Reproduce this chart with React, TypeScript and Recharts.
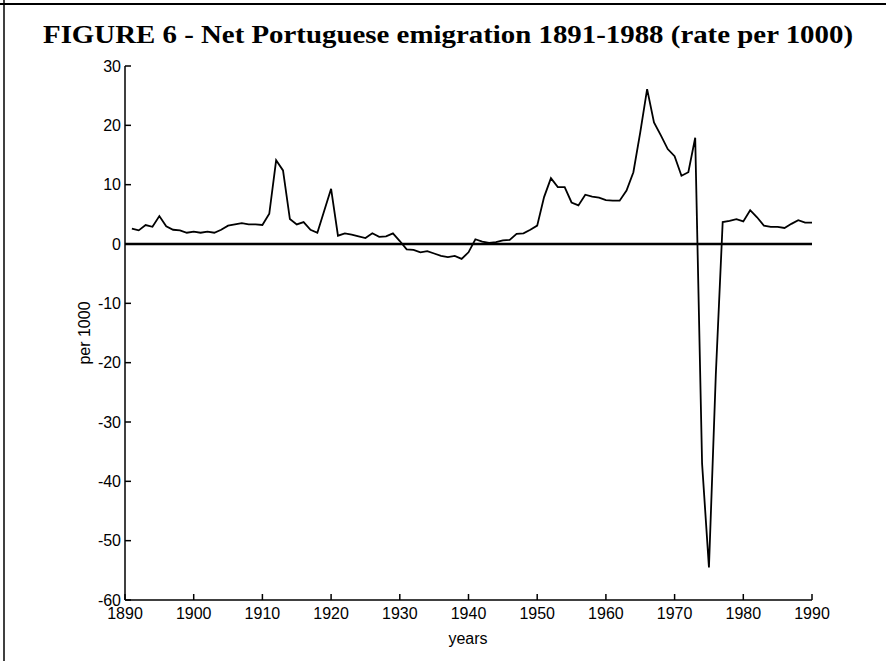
import { LineChart, Line, XAxis, YAxis, ReferenceLine } from "recharts";

const years = [
  1891, 1892, 1893, 1894, 1895, 1896, 1897, 1898, 1899, 1900,
  1901, 1902, 1903, 1904, 1905, 1906, 1907, 1908, 1909, 1910,
  1911, 1912, 1913, 1914, 1915, 1916, 1917, 1918, 1919, 1920,
  1921, 1922, 1923, 1924, 1925, 1926, 1927, 1928, 1929, 1930,
  1931, 1932, 1933, 1934, 1935, 1936, 1937, 1938, 1939, 1940,
  1941, 1942, 1943, 1944, 1945, 1946, 1947, 1948, 1949, 1950,
  1951, 1952, 1953, 1954, 1955, 1956, 1957, 1958, 1959, 1960,
  1961, 1962, 1963, 1964, 1965, 1966, 1967, 1968, 1969, 1970,
  1971, 1972, 1973, 1974, 1975, 1976, 1977, 1978, 1979, 1980,
  1981, 1982, 1983, 1984, 1985, 1986, 1987, 1988, 1989, 1990,
];

// net emigration, per 1000
const rates = [
  2.6, 2.3, 3.2, 2.9, 4.7, 3.0, 2.4, 2.3, 1.9, 2.1,
  1.9, 2.1, 1.9, 2.4, 3.1, 3.3, 3.5, 3.3, 3.3, 3.2,
  5.1, 14.1, 12.4, 4.2, 3.3, 3.7, 2.4, 1.9, 5.6, 9.3,
  1.4, 1.8, 1.6, 1.3, 1.0, 1.8, 1.2, 1.3, 1.8, 0.5,
  -0.9, -1.0, -1.4, -1.2, -1.6, -2.0, -2.2, -2.0, -2.5, -1.4,
  0.8, 0.4, 0.2, 0.3, 0.6, 0.7, 1.7, 1.8, 2.4, 3.1,
  7.9, 11.1, 9.6, 9.6, 7.0, 6.5, 8.3, 8.0, 7.8, 7.4,
  7.3, 7.3, 9.0, 12.1, 18.8, 26.1, 20.5, 18.3, 16.0, 14.8,
  11.5, 12.1, 17.9, -37, -54.5, -22, 3.7, 3.9, 4.2, 3.8,
  5.7, 4.5, 3.1, 2.9, 2.9, 2.7, 3.4, 4.0, 3.6, 3.6,
];

const xTicks = [1890, 1900, 1910, 1920, 1930, 1940, 1950, 1960, 1970, 1980, 1990];
const yTicks = [-60, -50, -40, -30, -20, -10, 0, 10, 20, 30];

const data = years.map((year, i) => ({ year, rate: rates[i] }));

const sans = "'Liberation Sans', Arial, Helvetica, sans-serif";
const tickStyle = { fill: "#000", fontSize: 16, fontFamily: sans };

export default function App() {
  return (
    <div style={{ position: "absolute", left: 0, top: 0, width: 886, height: 661, background: "#fff" }}>
      <LineChart width={886} height={661} data={data} margin={{ top: 66, right: 74, bottom: 0, left: 0 }}>
        <XAxis
          xAxisId="b"
          dataKey="year"
          type="number"
          domain={[1890, 1990]}
          ticks={xTicks}
          interval={0}
          height={61}
          tickSize={-6}
          tickMargin={14}
          stroke="#000"
          strokeWidth={1.5}
          tick={tickStyle}
        />
        <XAxis
          xAxisId="t"
          orientation="top"
          dataKey="year"
          type="number"
          domain={[1890, 1990]}
          ticks={xTicks}
          interval={0}
          height={0}
          mirror
          tick={false}
          tickSize={6}
          stroke="#000"
          strokeWidth={1.5}
        />
        <YAxis
          yAxisId="l"
          type="number"
          domain={[-60, 30]}
          ticks={yTicks}
          interval={0}
          width={125}
          tickSize={-6}
          tickMargin={10}
          stroke="#000"
          strokeWidth={1.5}
          tick={tickStyle}
        />
        <YAxis
          yAxisId="r"
          orientation="right"
          type="number"
          domain={[-60, 30]}
          ticks={yTicks}
          interval={0}
          width={0}
          mirror
          tick={false}
          tickSize={6}
          stroke="#000"
          strokeWidth={1.5}
        />
        <ReferenceLine xAxisId="b" yAxisId="l" y={0} stroke="#000" strokeWidth={2.5} />
        <Line
          xAxisId="b"
          yAxisId="l"
          type="linear"
          dataKey="rate"
          stroke="#000"
          strokeWidth={1.8}
          dot={false}
          isAnimationActive={false}
        />
      </LineChart>
      <svg
        width={886}
        height={661}
        style={{ position: "absolute", left: 0, top: 0, pointerEvents: "none" }}
      >
        <line x1={4} y1={0} x2={4} y2={661} stroke="#000" strokeWidth={1.5} />
        <line x1={0} y1={4} x2={886} y2={4} stroke="#000" strokeWidth={2} />
        <text
          x={448}
          y={43}
          textAnchor="middle"
          fontFamily="'Liberation Serif', 'Times New Roman', serif"
          fontWeight="bold"
          fontSize={26}
          textLength={810}
          lengthAdjust="spacingAndGlyphs"
        >
          FIGURE 6 - Net Portuguese emigration 1891-1988 (rate per 1000)
        </text>
        <text x={468} y={644} textAnchor="middle" fontFamily={sans} fontSize={16}>
          years
        </text>
        <text
          x={84}
          y={333}
          dy="0.35em"
          textAnchor="middle"
          fontFamily={sans}
          fontSize={16}
          transform="rotate(-90 84 333)"
        >
          per 1000
        </text>
      </svg>
    </div>
  );
}
